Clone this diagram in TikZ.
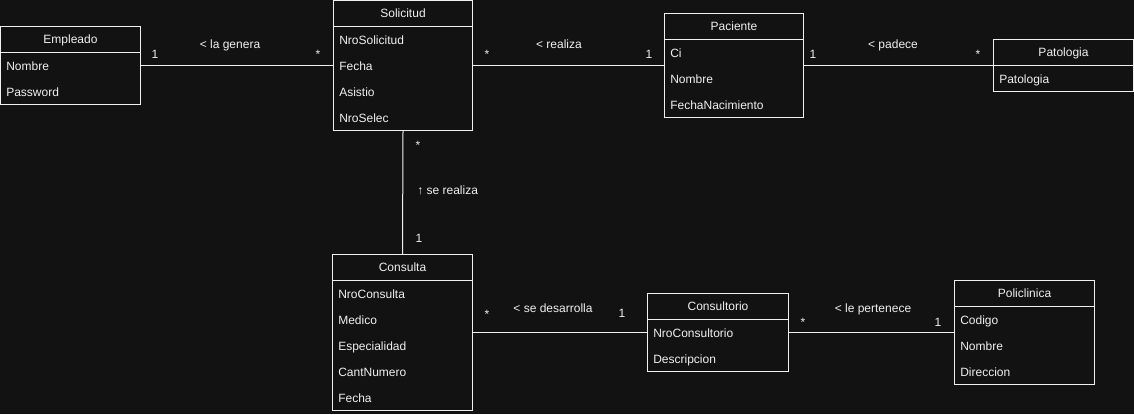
\documentclass[tikz,border=0pt]{standalone}
\usepackage{fontspec}
\setmainfont{Liberation Sans}
\definecolor{bg}{HTML}{121212}
\definecolor{fg}{HTML}{F0F0F0}
\tikzset{
  px/.style={x=0.75pt,y=-0.75pt},
  umlbox/.style={draw=fg, fill=bg, line width=0.75pt, inner sep=0pt, anchor=north west},
  txt/.style={text=fg, inner sep=0pt, font=\fontsize{9}{11}\selectfont},
  title/.style={txt, anchor=base},
  attr/.style={txt, anchor=base west},
  lbl/.style={txt, anchor=base},
  conn/.style={draw=fg, line width=0.75pt},
}
% #1 name, #2 x, #3 y, #4 width, #5 rows, #6 title, #7 attributes
\newcommand\umlclass[7]{%
  \node[umlbox, minimum width=#4*0.75pt, minimum height={(#5+1)*26*0.75pt}] (#1) at (#2,#3) {};
  \draw[conn] ([yshift=-19.5pt]#1.north west) -- ([yshift=-19.5pt]#1.north east);
  \node[title] (#1-t) at ([yshift=-13.2pt]#1.north) {#6};
  \foreach \a [count=\i] in {#7} {
    \node[attr] (#1-a\i) at ([xshift=4.5pt, yshift={-(13+26*\i+5.3)*0.75pt}]#1.north west) {\a};
  }%
}
\begin{document}
\begin{tikzpicture}[px]
\fill[bg] (0,0) rectangle (1134,414);
\useasboundingbox (0,0) rectangle (1134,414);

\umlclass{emp}{0}{26}{140}{2}{Empleado}{Nombre,Password}
\umlclass{sol}{333}{0}{139}{4}{Solicitud}{NroSolicitud,Fecha,Asistio,NroSelec}
\umlclass{pac}{664}{13}{139}{3}{Paciente}{Ci,Nombre,FechaNacimiento}
\umlclass{pat}{993}{39}{140}{1}{Patologia}{Patologia}
\umlclass{con}{332}{254}{140}{5}{Consulta}{NroConsulta,Medico,Especialidad,CantNumero,Fecha}
\umlclass{cto}{647}{293}{141}{2}{Consultorio}{NroConsultorio,Descripcion}
\umlclass{pol}{954}{280}{140}{3}{Policlinica}{Codigo,Nombre,Direccion}

\draw[conn] (emp.east) -- (sol.west);
\draw[conn] (sol.east) -- (pac.west);
\draw[conn] (pac.east) -- (pat.west);
\draw[conn] (sol.south) -- (con.north);
\draw[conn] (con.east) -- (cto.west);
\draw[conn] (cto.east) -- (pol.west);

\node[lbl] (l1) at (155,58) {1};
\node[lbl] (l2) at (230,48) {< la genera};
\node[lbl] (l3) at (318,58) {*};
\node[lbl] (l4) at (487,58) {*};
\node[lbl] (l5) at (559,48) {< realiza};
\node[lbl] (l6) at (649,58) {1};
\node[lbl] (l7) at (813,58) {1};
\node[lbl] (l8) at (893,48) {< padece};
\node[lbl] (l9) at (978,58) {*};
\node[lbl] (l10) at (418,149) {*};
\node[lbl, anchor=base west] (l11) at (417,194) {↑ se realiza};
\node[lbl] (l12) at (419,242) {1};
\node[lbl] (l13) at (487,318) {*};
\node[lbl] (l14) at (553,312) {< se desarrolla};
\node[lbl] (l15) at (622,317) {1};
\node[lbl] (l16) at (803,326) {*};
\node[lbl] (l17) at (873,312) {< le pertenece};
\node[lbl] (l18) at (938,326) {1};
\end{tikzpicture}
\end{document}
